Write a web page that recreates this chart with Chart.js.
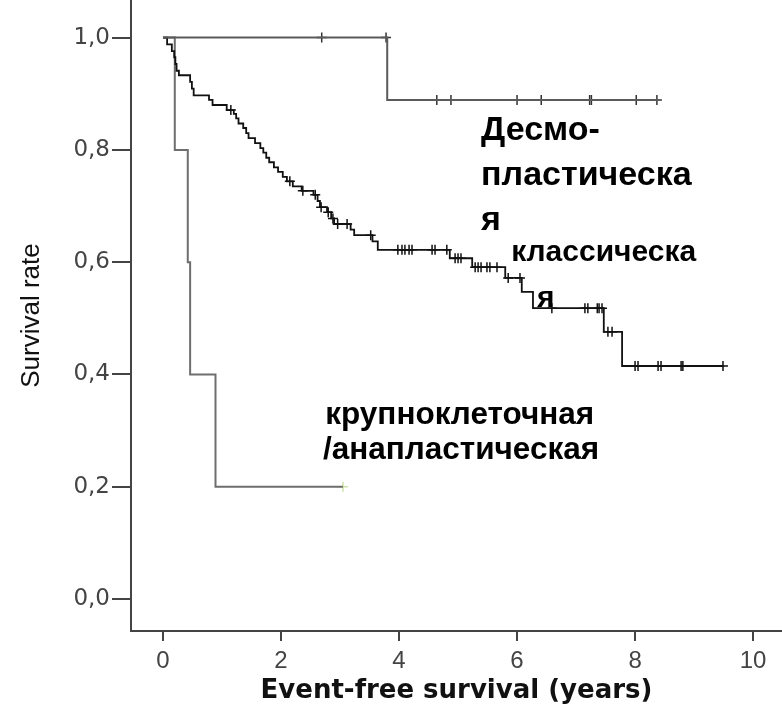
<!DOCTYPE html>
<html lang="ru">
<head>
<meta charset="UTF-8" />
<title>Event-free survival</title>
<script src="https://cdn.jsdelivr.net/npm/chart.js"></script>
<style>
  html, body { margin: 0; padding: 0; background: #fff; }
  #wrap { width: 782px; height: 709px; position: relative; }
</style>
</head>
<body>
<div id="wrap"><canvas id="km"></canvas></div>
<script>
// десмопластическая
const desmoT = [0, 3.80, 8.40];
const desmoS = [1.0, 0.889, 0.889];
const desmoCensT = [2.69, 3.78, 4.64, 4.88, 6.00, 6.41, 7.23, 7.26, 8.02, 8.37];
const desmoCensS = [1.0, 1.0, 0.889, 0.889, 0.889, 0.889, 0.889, 0.889, 0.889, 0.889];

// классическая
const classT = [0, 0.07, 0.15, 0.19, 0.21, 0.23, 0.27, 0.46, 0.49, 0.52, 0.78, 0.84, 1.08, 1.20, 1.24, 1.28,
  1.36, 1.41, 1.45, 1.56, 1.65, 1.70, 1.75, 1.80, 1.88, 1.95, 2.03, 2.10, 2.20, 2.35, 2.55, 2.62, 2.66,
  2.78, 2.85, 2.90, 3.18, 3.24, 3.55, 3.64, 4.86, 5.24, 5.80, 6.08, 6.27, 7.47, 7.78, 9.50];
const classS = [1.0, 0.988, 0.976, 0.965, 0.953, 0.941, 0.933, 0.921, 0.909, 0.897, 0.889, 0.880, 0.871, 0.864, 0.856, 0.847,
  0.839, 0.830, 0.821, 0.812, 0.803, 0.795, 0.786, 0.778, 0.769, 0.761, 0.752, 0.744, 0.735, 0.727, 0.720, 0.709, 0.698,
  0.689, 0.678, 0.668, 0.658, 0.648, 0.637, 0.622, 0.607, 0.591, 0.572, 0.547, 0.518, 0.476, 0.415, 0.415];
const classCensT = [1.15, 2.15, 2.37, 2.58, 2.68, 2.80, 2.88, 2.96, 3.12, 3.52,
  3.98, 4.05, 4.10, 4.17, 4.22, 4.56, 4.61, 4.81, 4.95, 5.00, 5.05,
  5.29, 5.34, 5.39, 5.49, 5.54, 5.66, 5.85, 6.05,
  6.59, 7.15, 7.20, 7.36, 7.39, 7.44, 7.54, 7.61,
  8.00, 8.05, 8.39, 8.44, 8.78, 8.81, 9.49];
const classCensS = [0.871, 0.744, 0.727, 0.720, 0.698, 0.689, 0.678, 0.668, 0.668, 0.648,
  0.622, 0.622, 0.622, 0.622, 0.622, 0.622, 0.622, 0.622, 0.607, 0.607, 0.607,
  0.591, 0.591, 0.591, 0.591, 0.591, 0.591, 0.572, 0.572,
  0.518, 0.518, 0.518, 0.518, 0.518, 0.518, 0.476, 0.476,
  0.415, 0.415, 0.415, 0.415, 0.415, 0.415, 0.415];

// крупноклеточная/анапластическая
const anaT = [0, 0.20, 0.42, 0.46, 0.89, 3.05];
const anaS = [1.0, 0.8, 0.6, 0.4, 0.2, 0.2];
const anaCensT = [3.05];
const anaCensS = [0.2];

const xTicks = [0, 2, 4, 6, 8, 10];
const yTicks = [0, 0.2, 0.4, 0.6, 0.8, 1.0];

// подписи групп (в координатах графика), size = кегль
const labels = [
  { text: 'Десмо-', t: 5.39, s: 0.818, size: 34 },
  { text: 'пластическа', t: 5.39, s: 0.737, size: 34 },
  { text: 'я', t: 5.39, s: 0.658, size: 34 },
  { text: 'классическа', t: 5.90, s: 0.602, size: 30 },
  { text: 'я', t: 6.34, s: 0.521, size: 30 },
  { text: 'крупноклеточная', t: 2.75, s: 0.312, size: 31.5 },
  { text: '/анапластическая', t: 2.71, s: 0.250, size: 31.5 }
];

const pts = (ts, ss) => ts.map((t, i) => ({ x: t, y: ss[i] }));

function stepLine(ts, ss, color, width) {
  return {
    type: 'line',
    data: pts(ts, ss),
    borderColor: color,
    borderWidth: width,
    stepped: true,
    pointRadius: 0,
    fill: false
  };
}

function censMarks(ts, ss, color) {
  return {
    type: 'scatter',
    data: pts(ts, ss),
    pointStyle: 'cross',
    pointRadius: 5,
    borderColor: color,
    borderWidth: 1.5,
    backgroundColor: color
  };
}

const groupLabels = {
  id: 'groupLabels',
  afterDatasetsDraw(chart) {
    const { ctx, scales: { x, y } } = chart;
    ctx.save();
    ctx.fillStyle = '#000';
    ctx.textAlign = 'left';
    ctx.textBaseline = 'alphabetic';
    labels.forEach(l => {
      ctx.font = `bold ${l.size}px "Liberation Sans", Arial, sans-serif`;
      ctx.fillText(l.text, x.getPixelForValue(l.t), y.getPixelForValue(l.s));
    });
    ctx.restore();
  }
};

// убираем авто-отступы от подписей, чтобы область графика доходила до краёв
const noPad = s => { s.paddingTop = 0; s.paddingBottom = 0; s.paddingLeft = 0; s.paddingRight = 0; };

const axisColor = '#444';

new Chart(document.getElementById('km'), {
  data: {
    datasets: [
      stepLine(desmoT, desmoS, '#5a5a5a', 2),
      censMarks(desmoCensT, desmoCensS, '#333'),
      stepLine(classT, classS, '#111', 1.8),
      censMarks(classCensT, classCensS, '#111'),
      stepLine(anaT, anaS, '#6e6e6e', 2),
      censMarks(anaCensT, anaCensS, '#cfe3a8')
    ]
  },
  options: {
    responsive: true,
    maintainAspectRatio: false,
    animation: false,
    layout: { padding: 0, autoPadding: false },
    plugins: { legend: { display: false }, tooltip: { enabled: false } },
    scales: {
      x: {
        type: 'linear',
        min: -0.542,
        max: 10.49,
        afterBuildTicks: s => { s.ticks = xTicks.map(v => ({ value: v })); },
        afterFit: s => { s.height = 78; noPad(s); },
        border: { color: axisColor, width: 2 },
        grid: { drawOnChartArea: false, drawTicks: true, tickLength: 10, color: axisColor, lineWidth: 2 },
        ticks: {
          color: '#444',
          padding: 6,
          maxRotation: 0,
          font: { family: '"Liberation Sans", Arial, sans-serif', size: 24 }
        },
        title: {
          display: true,
          text: 'Event-free survival (years)',
          color: '#111',
          padding: { top: 0, bottom: 2 },
          font: { family: '"DejaVu Sans", sans-serif', size: 26, weight: 'bold' }
        }
      },
      y: {
        type: 'linear',
        min: -0.057,
        max: 1.067,
        afterBuildTicks: s => { s.ticks = yTicks.map(v => ({ value: v })); },
        afterFit: s => { s.width = 131; noPad(s); },
        border: { color: axisColor, width: 2 },
        grid: { drawOnChartArea: false, drawTicks: true, tickLength: 19, color: axisColor, lineWidth: 2 },
        ticks: {
          color: '#444',
          padding: 2,
          callback: v => v.toFixed(1).replace('.', ','),
          font: { family: '"DejaVu Sans", sans-serif', size: 23 }
        },
        title: {
          display: true,
          text: 'Survival rate',
          color: '#111',
          padding: { top: 16, bottom: 0 },
          font: { family: '"Liberation Sans", Arial, sans-serif', size: 26 }
        }
      }
    }
  },
  plugins: [groupLabels]
});
</script>
</body>
</html>
